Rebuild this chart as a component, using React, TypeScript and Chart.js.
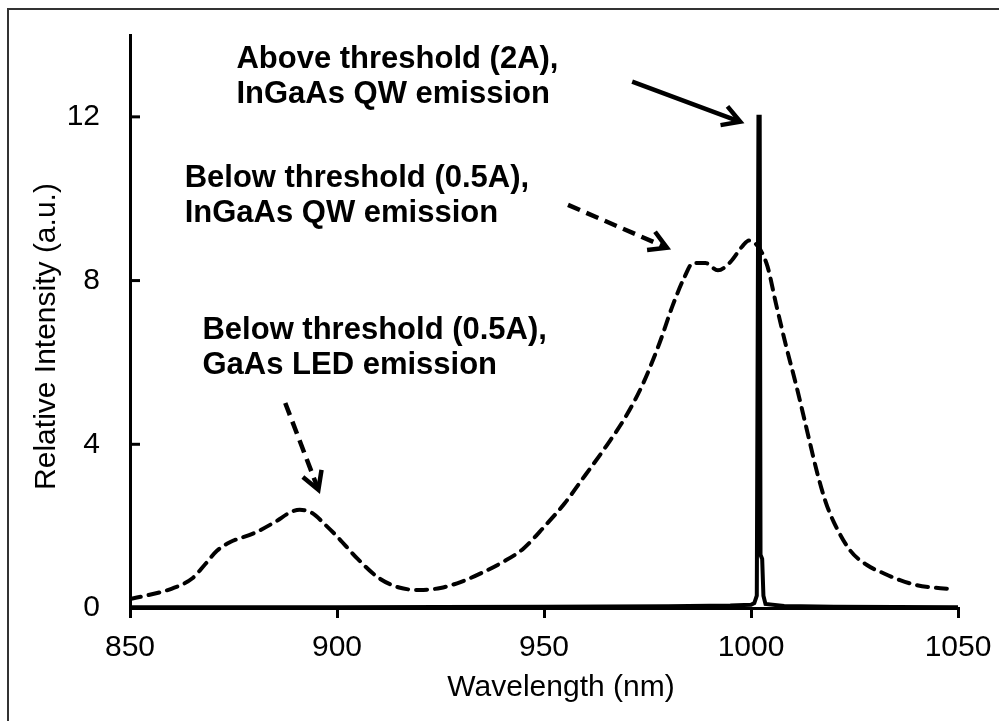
import { useEffect, useRef } from 'react';
import { Chart, registerables } from 'chart.js';

Chart.register(...registerables);

const FONT = '"Liberation Sans", Arial, sans-serif';

// above threshold (2A): laser line, solid trace
const aboveWl = [850, 900, 950, 980, 995, 1000, 1000.8, 1001.4, 1001.8, 1002.1, 1002.3, 1002.7, 1003.0, 1003.5, 1008, 1020, 1050];
const aboveInt = [0.02, 0.02, 0.03, 0.04, 0.06, 0.08, 0.12, 0.3, 12.0, 12.0, 1.3, 1.2, 0.3, 0.1, 0.05, 0.03, 0.02];

// below threshold (0.5A): spontaneous emission, dashed trace
const belowWl = [
  850, 855, 860, 865, 868, 871, 874, 880, 885, 889, 891, 894, 897, 900, 905, 910, 915, 920, 925,
  930, 935, 940, 945, 950, 955, 960, 965, 970, 974, 978, 981, 984, 986, 989, 992, 995, 998,
  999.5, 1002, 1004, 1006, 1008.5, 1011, 1013.5, 1016, 1018, 1020, 1024, 1028, 1032, 1036,
  1040, 1044, 1049,
];
const belowInt = [
  0.22, 0.33, 0.47, 0.72, 1.05, 1.4, 1.6, 1.83, 2.1, 2.35, 2.4, 2.32, 2.05, 1.75, 1.2, 0.74, 0.5, 0.44, 0.49,
  0.64, 0.86, 1.12, 1.45, 1.98, 2.56, 3.25, 3.95, 4.72, 5.5, 6.5, 7.37, 8.1, 8.43, 8.43, 8.25, 8.45, 8.85,
  8.98, 8.79, 8.34, 7.45, 6.39, 5.41, 4.35, 3.3, 2.6, 2.1, 1.4, 1.05, 0.85, 0.68,
  0.56, 0.5, 0.46,
];

const xTicks = [850, 900, 950, 1000, 1050];
const yTicks = [0, 4, 8, 12];

const xTitle = 'Wavelength (nm)';
const yTitle = 'Relative Intensity (a.u.)';

// callouts: text lines, first-line baseline anchor and arrow ends (data units)
const labelLines = [
  ['Above threshold (2A),', 'InGaAs QW emission'],
  ['Below threshold (0.5A),', 'InGaAs QW emission'],
  ['Below threshold (0.5A),', 'GaAs LED emission'],
];
const labelAnchors = [[875.7, 13.19], [863.2, 10.29], [867.5, 6.57]];
const arrowFrom = [[971.3, 12.86], [955.8, 9.85], [887.5, 5.01]];
const arrowTo = [[997.4, 11.88], [979.7, 8.8], [895.5, 2.89]];
const arrowDashed = [false, true, true];

const callouts = {
  id: 'callouts',
  afterDatasetsDraw(chart: any) {
    const { ctx, chartArea, scales } = chart;
    const x = scales.x;
    const y = scales.y;
    ctx.save();
    ctx.strokeStyle = '#000';
    ctx.fillStyle = '#000';

    // y ticks point into the plot
    ctx.lineWidth = 3;
    y.ticks.forEach((t: any) => {
      const py = y.getPixelForValue(t.value);
      ctx.beginPath();
      ctx.moveTo(chartArea.left, py);
      ctx.lineTo(chartArea.left + 10, py);
      ctx.stroke();
    });

    // axis titles (sit a little off-centre in the original)
    ctx.font = `30px ${FONT}`;
    ctx.textAlign = 'center';
    ctx.textBaseline = 'middle';
    ctx.fillText(xTitle, (chartArea.left + chartArea.right) / 2 + 17, chartArea.bottom + 80);
    ctx.save();
    ctx.translate(47, (chartArea.top + chartArea.bottom) / 2 + 15);
    ctx.rotate(-Math.PI / 2);
    ctx.fillText(yTitle, 0, 0);
    ctx.restore();

    ctx.font = `bold 31px ${FONT}`;
    ctx.textAlign = 'left';
    ctx.textBaseline = 'alphabetic';
    labelLines.forEach((lines, i) => {
      const px = x.getPixelForValue(labelAnchors[i][0]);
      const py = y.getPixelForValue(labelAnchors[i][1]);
      lines.forEach((line, j) => ctx.fillText(line, px, py + j * 35));
    });

    ctx.lineWidth = 4.5;
    ctx.lineJoin = 'miter';
    arrowFrom.forEach((from, i) => {
      const x0 = x.getPixelForValue(from[0]);
      const y0 = y.getPixelForValue(from[1]);
      const x1 = x.getPixelForValue(arrowTo[i][0]);
      const y1 = y.getPixelForValue(arrowTo[i][1]);
      const ang = Math.atan2(y1 - y0, x1 - x0);
      ctx.setLineDash(arrowDashed[i] ? [13, 7] : []);
      ctx.beginPath();
      ctx.moveTo(x0, y0);
      ctx.lineTo(x1 - 2 * Math.cos(ang), y1 - 2 * Math.sin(ang));
      ctx.stroke();
      ctx.setLineDash([]);
      const head = 20;
      const spread = Math.PI / 6;
      ctx.beginPath();
      ctx.moveTo(x1 - head * Math.cos(ang - spread), y1 - head * Math.sin(ang - spread));
      ctx.lineTo(x1, y1);
      ctx.lineTo(x1 - head * Math.cos(ang + spread), y1 - head * Math.sin(ang + spread));
      ctx.stroke();
    });
    ctx.restore();
  },
};

export default function App() {
  const canvasRef = useRef<HTMLCanvasElement | null>(null);
  const chartRef = useRef<Chart | null>(null);

  useEffect(() => {
    if (!canvasRef.current) return;
    if (chartRef.current) chartRef.current.destroy();

    chartRef.current = new Chart(canvasRef.current, {
      type: 'line',
      data: {
        datasets: [
          {
            label: 'Above threshold (2A)',
            data: aboveWl.map((w, i) => ({ x: w, y: aboveInt[i] })),
            borderColor: '#000',
            borderWidth: 4,
            pointRadius: 0,
            tension: 0,
          },
          {
            label: 'Below threshold (0.5A)',
            data: belowWl.map((w, i) => ({ x: w, y: belowInt[i] })),
            borderColor: '#000',
            borderWidth: 4,
            borderDash: [11, 8],
            borderCapStyle: 'round',
            pointRadius: 0,
            cubicInterpolationMode: 'monotone',
          },
        ],
      },
      options: {
        responsive: false,
        animation: false,
        layout: { padding: { top: 35, right: 41, left: 0, bottom: 0 } },
        plugins: {
          legend: { display: false },
          tooltip: { enabled: false },
        },
        scales: {
          x: {
            type: 'linear',
            min: 850,
            max: 1050,
            afterBuildTicks: (s: any) => {
              s.ticks = xTicks.map((v) => ({ value: v }));
            },
            afterFit: (s: any) => {
              s.height = 113;
              s.paddingLeft = 0;
              s.paddingRight = 0;
            },
            grid: { drawOnChartArea: false, drawTicks: true, tickLength: 10, lineWidth: 3, color: '#000' },
            border: { display: true, width: 3, color: '#000' },
            ticks: {
              padding: 12,
              color: '#000',
              maxRotation: 0,
              font: { family: FONT, size: 30 },
              callback: (v: any) => String(v),
            },
          },
          y: {
            type: 'linear',
            min: 0,
            max: 14,
            afterBuildTicks: (s: any) => {
              s.ticks = yTicks.map((v) => ({ value: v }));
            },
            afterFit: (s: any) => {
              s.width = 130;
              s.paddingTop = 0;
              s.paddingBottom = 0;
            },
            grid: { display: false, drawTicks: false },
            border: { display: true, width: 3, color: '#000' },
            ticks: {
              padding: 30,
              color: '#000',
              font: { family: FONT, size: 30 },
              callback: (v: any) => String(v),
            },
          },
        },
      },
      plugins: [callouts],
    });

    return () => {
      chartRef.current?.destroy();
      chartRef.current = null;
    };
  }, []);

  return (
    <div style={{ position: 'fixed', left: 0, top: 0, width: 999, height: 721, background: '#fff', overflow: 'hidden' }}>
      <div
        style={{
          position: 'absolute',
          left: 7,
          top: 8,
          width: 1100,
          height: 800,
          borderLeft: '2px solid #333',
          borderTop: '2px solid #333',
        }}
      />
      <canvas ref={canvasRef} width={999} height={721} style={{ position: 'absolute', left: 0, top: 0 }} />
    </div>
  );
}
